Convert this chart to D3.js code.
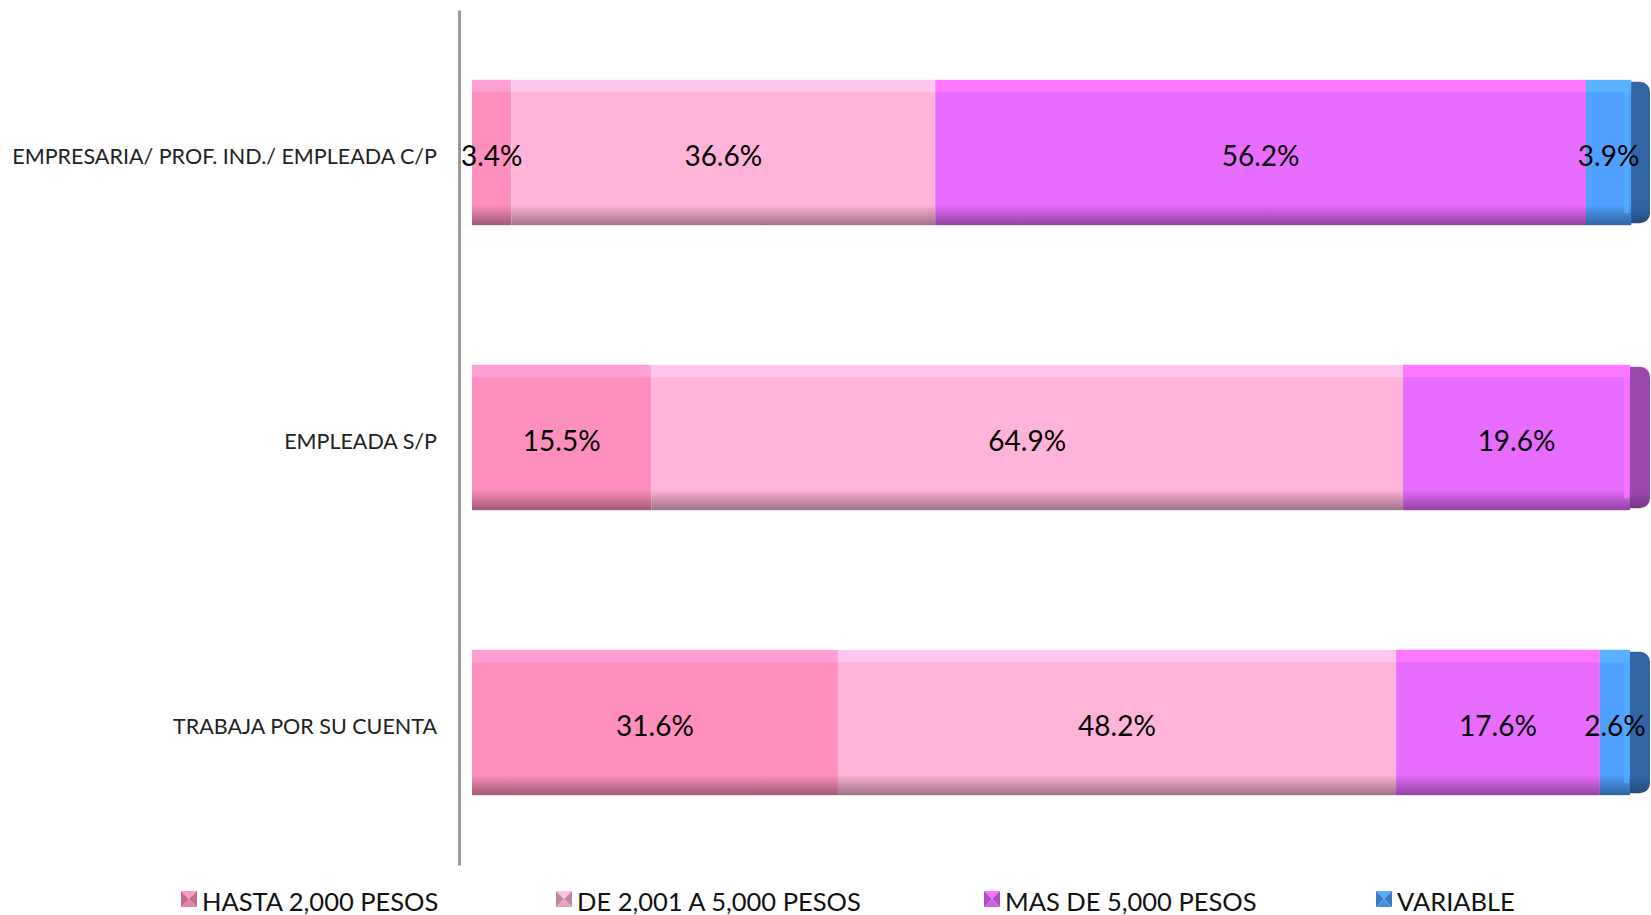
<!DOCTYPE html>
<html>
<head>
<meta charset="utf-8">
<script src="https://cdnjs.cloudflare.com/ajax/libs/d3/7.8.5/d3.min.js"></script>
<style>
  body { margin: 0; background: #fff; }
  svg { display: block; }
  text { font-family: "Century Gothic", "URW Gothic", Lato, "DejaVu Sans", sans-serif; }
</style>
</head>
<body>
<svg id="chart"></svg>
<script>
// categories top to bottom
var categories = ["EMPRESARIA/ PROF. IND./ EMPLEADA C/P", "EMPLEADA S/P", "TRABAJA POR SU CUENTA"];
var seriesNames = ["HASTA 2,000 PESOS", "DE 2,001 A 5,000 PESOS", "MAS DE 5,000 PESOS", "VARIABLE"];
// percent per category, in series order
var hasta2000 = [3.4, 15.5, 31.6];
var de2001a5000 = [36.6, 64.9, 48.2];
var masDe5000 = [56.2, 19.6, 17.6];
var variable = [3.9, 0, 2.6];

var colors = ["#ff8fbe", "#ffb3d8", "#e86cff", "#4fa0ff"];
var sideColors = ["#c0608a", "#c98aa8", "#9a48ae", "#3264a6"];

var width = 1651, height = 915;
var svg = d3.select("#chart").attr("width", width).attr("height", height);

var x = d3.scaleLinear().domain([0, 100]).range([472, 1630]);
var y = d3.scaleBand().domain(categories).range([10, 865])
    .paddingInner(0.49).paddingOuter(0.245);

var values = [hasta2000, de2001a5000, masDe5000, variable];
var rows = categories.map(function (c, i) {
    var start = 0;
    return seriesNames.map(function (s, j) {
        var seg = { cat: c, series: j, x0: start, x1: start + values[j][i], v: values[j][i] };
        start += values[j][i];
        return seg;
    });
});

// gradients (top highlight, bottom shade)
var defs = svg.append("defs");
colors.forEach(function (col, j) {
    var g = defs.append("linearGradient").attr("id", "g" + j)
        .attr("x1", 0).attr("y1", 0).attr("x2", 0).attr("y2", 1);
    var c = d3.color(col);
    g.append("stop").attr("offset", "0").attr("stop-color", c.brighter(0.3));
    g.append("stop").attr("offset", "0.08").attr("stop-color", c.brighter(0.3));
    g.append("stop").attr("offset", "0.09").attr("stop-color", col);
    g.append("stop").attr("offset", "0.86").attr("stop-color", col);
    g.append("stop").attr("offset", "0.93").attr("stop-color", c.darker(0.6));
    g.append("stop").attr("offset", "1").attr("stop-color", c.darker(1.3));
    var s = defs.append("linearGradient").attr("id", "s" + j)
        .attr("x1", 0).attr("y1", 0).attr("x2", 0).attr("y2", 1);
    s.append("stop").attr("offset", "0").attr("stop-color", sideColors[j]);
    s.append("stop").attr("offset", "0.88").attr("stop-color", sideColors[j]);
    s.append("stop").attr("offset", "1").attr("stop-color", d3.color(sideColors[j]).darker(0.8));
});

var bars = svg.append("g").selectAll("g").data(rows).enter().append("g");

// side face of the last segment
bars.each(function (row) {
    var last = row.filter(function (d) { return d.v > 0; }).pop();
    d3.select(this).append("rect")
        .attr("x", x(100) - 12)
        .attr("y", y(last.cat) + 2)
        .attr("width", 32)
        .attr("height", y.bandwidth() - 4)
        .attr("rx", 10)
        .attr("fill", "url(#s" + last.series + ")");
});

bars.selectAll("rect.seg").data(function (d) { return d.filter(function (s) { return s.v > 0; }); })
    .enter().append("rect").attr("class", "seg")
    .attr("x", function (d) { return x(d.x0); })
    .attr("y", function (d) { return y(d.cat); })
    .attr("width", function (d) { return x(d.x1) - x(d.x0); })
    .attr("height", y.bandwidth())
    .attr("fill", function (d) { return "url(#g" + d.series + ")"; });

// bevel strip at the right end of the front face
bars.each(function (row) {
    var last = row.filter(function (d) { return d.v > 0; }).pop();
    d3.select(this).append("rect")
        .attr("x", x(100) - 6)
        .attr("y", y(last.cat) + 10)
        .attr("width", 5)
        .attr("height", y.bandwidth() - 22)
        .attr("fill", d3.color(colors[last.series]).brighter(0.25))
        .attr("opacity", 0.7);
});

// value labels
bars.selectAll("text").data(function (d) { return d.filter(function (s) { return s.v > 0; }); })
    .enter().append("text")
    .attr("x", function (d) { return (x(d.x0) + x(d.x1)) / 2; })
    .attr("y", function (d) { return y(d.cat) + y.bandwidth() / 2 + 2; })
    .attr("text-anchor", "middle")
    .attr("dominant-baseline", "central")
    .attr("font-size", 28)
    .attr("fill", "#000")
    .text(function (d) { return d.v.toFixed(1) + "%"; });

// category axis
var axis = svg.append("g").attr("transform", "translate(459,0)")
    .call(d3.axisLeft(y).tickSize(0).tickPadding(22));
axis.select(".domain").attr("stroke", "#9a9a9a").attr("stroke-width", 3);
axis.selectAll("text").attr("font-size", 21.5).attr("fill", "#222")
    .attr("dy", "0.55em")
    .style("font-family", "\"Century Gothic\", \"URW Gothic\", Lato, \"DejaVu Sans\", sans-serif");

// legend
var legendX = [189, 564, 992, 1384];
var legend = svg.append("g").selectAll("g").data(seriesNames).enter().append("g")
    .attr("transform", function (d, i) { return "translate(" + legendX[i] + ",899)"; });
var m = 8;
legend.each(function (d, i) {
    var g = d3.select(this);
    var c = d3.color(colors[i]);
    var tri = [
        { p: [[-m, -m], [m, -m], [0, 0]], f: c.brighter(0.2) },
        { p: [[m, -m], [m, m], [0, 0]], f: c.darker(0.8) },
        { p: [[m, m], [-m, m], [0, 0]], f: c.darker(0.3) },
        { p: [[-m, m], [-m, -m], [0, 0]], f: c.darker(0.8) }
    ];
    tri.forEach(function (t) {
        g.append("path").attr("d", d3.line()(t.p) + "Z").attr("fill", t.f);
    });
    g.append("text").attr("x", 13).attr("y", 2)
        .attr("dominant-baseline", "central")
        .attr("font-size", 25.5).attr("fill", "#111")
        .text(d);
});
</script>
</body>
</html>
